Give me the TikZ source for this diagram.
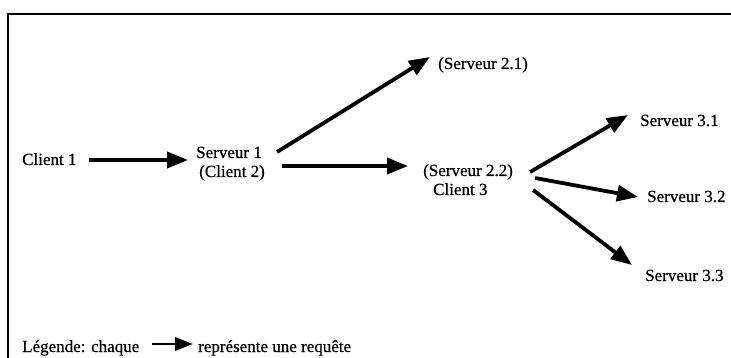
\documentclass[tikz,border=0pt]{standalone}
\usepackage{fontspec}
\setmainfont{Liberation Serif}[FakeBold=0.6]
\usetikzlibrary{arrows.meta}
\tikzset{
  lbl/.style={inner sep=0pt, anchor=base west, font=\fontsize{17}{20}\selectfont},
  req/.style={line width=3.8pt, -{Triangle[length=21pt,width=16pt]}},
  legarrow/.style={line width=2.8pt, -{Triangle[length=18pt,width=13pt]}},
  frame/.style={line width=2.6pt}
}
\begin{document}
\begin{tikzpicture}[x=1pt,y=-1pt]
\useasboundingbox (0,0) rectangle (731,358);
\draw[frame] (731,14) -- (8,14) -- (8,358);

\node[lbl] (c1) at (22,165) {Client 1};
\node[lbl] (s1) at (196,158) {Serveur 1};
\node[lbl] (c2) at (199,177) {(Client 2)};
\node[lbl] (s21) at (438,69) {(Serveur 2.1)};
\node[lbl] (s22) at (423,176) {(Serveur 2.2)};
\node[lbl] (c3) at (433,195) {Client 3};
\node[lbl] (s31) at (640,126) {Serveur 3.1};
\node[lbl] (s32) at (647,202) {Serveur 3.2};
\node[lbl] (s33) at (645,281) {Serveur 3.3};
\node[lbl] (leg1) at (22,352) {Légende: chaque};
\node[lbl] (leg2) at (198,352) {représente une requête};

\draw[req] ([xshift=12pt,yshift=5pt]c1.base east) -- ([xshift=-8pt,yshift=-2pt]s1.base west);
\draw[req] ([xshift=15pt,yshift=6pt]s1.base east) -- ([xshift=-8pt,yshift=12pt]s21.base west);
\draw[req] ([xshift=17pt,yshift=11pt]c2.base east) -- ([xshift=-15pt,yshift=10pt]s22.base west);
\draw[req] ([xshift=17pt,yshift=4pt]s22.base east) -- ([xshift=-12pt,yshift=11pt]s31.base west);
\draw[req] ([xshift=22pt,yshift=-2pt]s22.base east) -- ([xshift=-9pt,yshift=5pt]s32.base west);
\draw[req] ([xshift=20pt,yshift=-14pt]s22.base east) -- ([xshift=-13pt,yshift=16pt]s33.base west);
\draw[legarrow] ([xshift=13pt,yshift=8pt]leg1.base east) -- ([xshift=-5pt,yshift=8pt]leg2.base west);
\end{tikzpicture}
\end{document}
